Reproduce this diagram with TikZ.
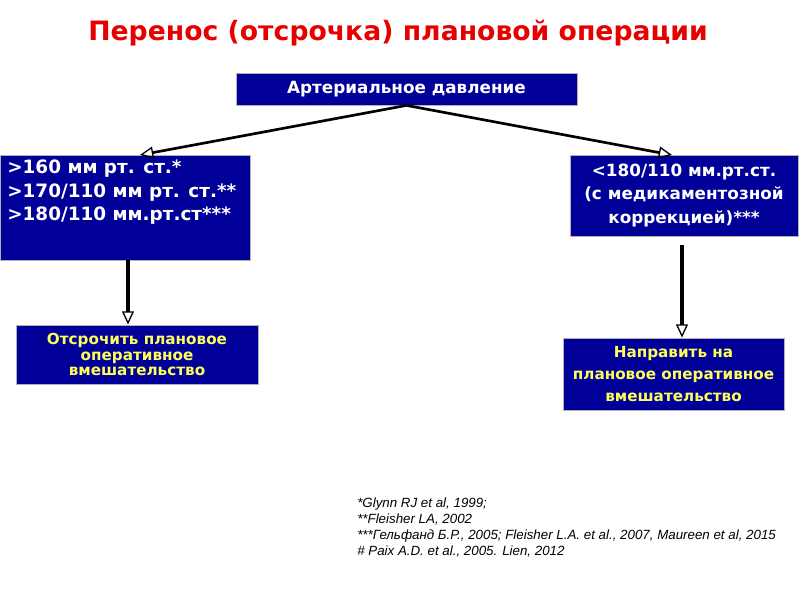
\documentclass[tikz,border=0pt]{standalone}
\usepackage{fontspec}
\setmainfont{DejaVu Sans}
\newfontfamily\reffont{Liberation Sans}
\usetikzlibrary{arrows.meta}
\definecolor{boxblue}{RGB}{0,0,153}
\definecolor{titlered}{RGB}{230,0,0}
\definecolor{txtyellow}{RGB}{255,255,90}
\tikzset{
  box/.style={draw=gray!60, line width=0.6pt, fill=boxblue, inner sep=0pt},
  wtext/.style={text=white, font=\bfseries\fontsize{12.6}{17.6}\selectfont},
  ytext/.style={text=txtyellow, font=\bfseries\fontsize{11.4}{11.6}\selectfont, align=center},
  conn/.style={line width=2pt, -{Triangle[open, length=10pt, width=9pt, line width=1pt]}},
  vconn/.style={conn, line width=2.4pt},
}
\begin{document}
\begin{tikzpicture}[x=0.75pt, y=-0.75pt]
\useasboundingbox (0,0) rectangle (800,600);
\node[text=titlered, font=\bfseries\fontsize{20}{24}\selectfont] (title) at (398,33) {Перенос (отсрочка) плановой операции};

\node[box, minimum width=255.75pt, minimum height=24pt, wtext] (ad) at (406.5,89) {Артериальное давление};

\node[box, minimum width=187.5pt, minimum height=78.75pt] (left) at (125,207.5) {};
\node[wtext, font=\bfseries\fontsize{13.8}{17.6}\selectfont, anchor=north west, align=left, inner sep=0pt] (lefttxt) at (7,160) {>160 мм рт. ст.*\\>170/110 мм рт. ст.**\\>180/110 мм.рт.ст***};

\node[box, minimum width=171pt, minimum height=60.75pt, wtext, align=center] (right) at (684,195.5) {<180/110 мм.рт.ст.\\(с медикаментозной\\коррекцией)***};

\node[box, minimum width=181.5pt, minimum height=44.25pt, ytext] (lb) at (137,354.5) {Отсрочить плановое\\оперативное\\вмешательство};

\node[box, minimum width=165.75pt, minimum height=54pt, ytext, font=\bfseries\fontsize{11.4}{16.5}\selectfont] (rb) at (673.5,374) {Направить на\\плановое оперативное\\вмешательство};

\coordinate (lt) at (140,155);
\coordinate (rt) at (672,155);
\coordinate (rs) at (682,245);
\draw[conn] (ad.south) -- (lt);
\draw[conn] (ad.south) -- (rt);
\draw[vconn] (left.south -| 128,0) -- (lb.north -| 128,0);
\draw[vconn] (rs) -- (rb.north -| rs);

\node[anchor=north west, inner sep=0pt, align=left, font=\reffont\itshape\fontsize{10}{11.8}\selectfont] (refs) at (357,498) {*Glynn RJ et al, 1999;\\**Fleisher LA, 2002\\***Гельфанд Б.Р., 2005; Fleisher L.A. et al., 2007, Maureen et al, 2015\\\# Paix A.D. et al., 2005. Lien, 2012};
\end{tikzpicture}
\end{document}
